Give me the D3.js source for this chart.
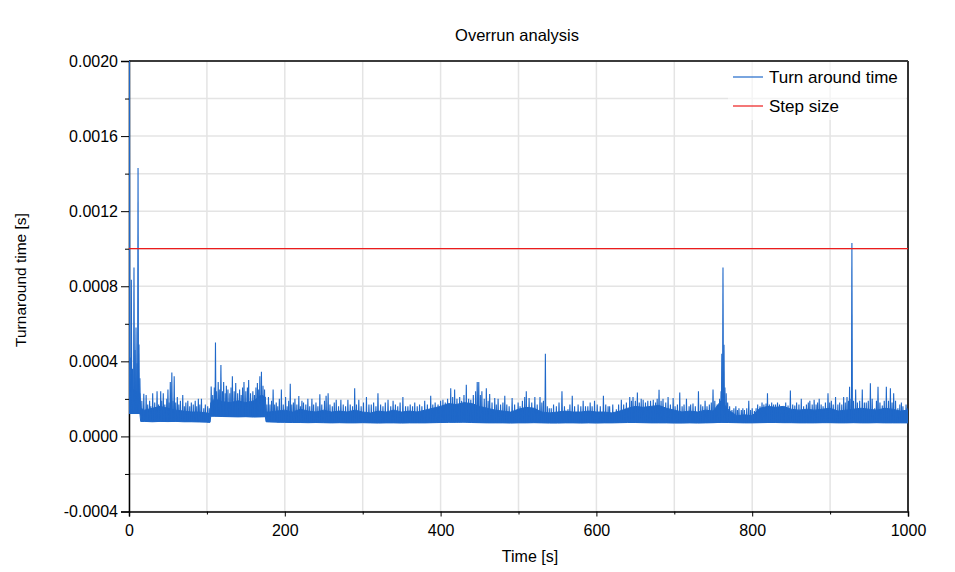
<!DOCTYPE html>
<html>
<head>
<meta charset="utf-8">
<script src="https://cdn.jsdelivr.net/npm/d3@7"></script>
<style>
  body { margin: 0; background: #fff; }
  svg { font-family: "Liberation Sans", Arial, sans-serif; }
  .grid line { stroke: #e4e4e4; stroke-width: 1.5; }
  .axis path, .axis line { stroke: #000; }
  .axis text { font-size: 16px; fill: #000; }
</style>
</head>
<body>
<svg id="chart" width="955" height="572"></svg>
<script>
// ---- data (values in units of 1e-4 s where noted) ----
const yTickValues = [-0.0004, 0, 0.0004, 0.0008, 0.0012, 0.0016, 0.0020];
const yTickLabels = ["-0.0004", "0.0000", "0.0004", "0.0008", "0.0012", "0.0016", "0.0020"];
const yMinorValues = [-0.0002, 0.0002, 0.0006, 0.0010, 0.0014, 0.0018];
const xTickValues = [0, 200, 400, 600, 800, 1000];
const xTickLabels = ["0", "200", "400", "600", "800", "1000"];
const xMinorValues = [100, 300, 500, 700, 900];

// step size (constant)
const stepTimes = [0, 1000];
const stepValues = [0.001, 0.001];

// dense core of the turnaround-time trace: lower / upper edge (1e-4 s)
const bandTimes = [0, 14, 15, 20, 30, 40, 50, 60, 70, 80, 90, 100, 104, 105, 110, 120, 130, 140, 150, 160, 170, 175,
  176, 180, 190, 200, 210, 220, 230, 240, 250, 260, 270,
  280, 290, 300, 310, 320, 330, 340, 350, 360, 370,
  380, 390, 400, 410, 420, 430, 440, 450, 460, 470,
  480, 490, 500, 510, 520, 530, 540, 550, 560, 570,
  580, 590, 600, 610, 620, 630, 640, 650, 660, 670,
  680, 690, 700, 710, 720, 730, 740, 750, 760, 770,
  780, 790, 800, 810, 820, 830, 840, 850, 860, 870,
  880, 890, 900, 910, 920, 930, 940, 950, 960, 970,
  980, 990, 1000];
const bandLow = [1.22, 1.22, 0.80, 0.80, 0.78, 0.80, 0.79, 0.80, 0.78, 0.78, 0.77, 0.76, 0.75, 1.08, 1.08, 1.06, 1.05, 1.04, 1.05, 1.03, 1.04, 1.05,
  0.78, 0.77, 0.76, 0.75, 0.74, 0.74, 0.73, 0.74, 0.73, 0.72, 0.73,
  0.72, 0.72, 0.73, 0.72, 0.71, 0.72, 0.72, 0.71, 0.72, 0.72,
  0.72, 0.73, 0.74, 0.75, 0.75, 0.76, 0.74, 0.73, 0.72, 0.72,
  0.72, 0.71, 0.72, 0.72, 0.73, 0.72, 0.71, 0.71, 0.72, 0.72,
  0.71, 0.72, 0.71, 0.72, 0.72, 0.73, 0.74, 0.74, 0.73, 0.72,
  0.72, 0.72, 0.71, 0.71, 0.72, 0.71, 0.72, 0.73, 0.75, 0.74,
  0.73, 0.72, 0.72, 0.73, 0.74, 0.74, 0.73, 0.73, 0.72, 0.72,
  0.72, 0.73, 0.73, 0.72, 0.72, 0.73, 0.72, 0.72, 0.73, 0.72,
  0.72, 0.72, 0.72];
const bandHigh = [2.6, 2.3, 1.5, 1.4, 1.5, 1.6, 1.5, 1.4, 1.35, 1.3, 1.3, 1.25, 1.2, 1.8, 2.0, 1.85, 1.8, 1.9, 1.8, 1.9, 2.2, 2.1,
  1.3, 1.3, 1.35, 1.4, 1.3, 1.45, 1.35, 1.3, 1.4, 1.3, 1.35,
  1.3, 1.4, 1.3, 1.25, 1.35, 1.3, 1.4, 1.3, 1.35, 1.3,
  1.4, 1.5, 1.6, 1.75, 1.7, 1.8, 1.75, 1.6, 1.5, 1.4,
  1.35, 1.3, 1.45, 1.55, 1.5, 1.3, 1.25, 1.3, 1.35, 1.3,
  1.3, 1.35, 1.3, 1.3, 1.25, 1.35, 1.5, 1.6, 1.55, 1.6,
  1.65, 1.5, 1.4, 1.3, 1.35, 1.3, 1.4, 1.35, 1.9, 1.4,
  1.1, 1.15, 1.1, 1.5, 1.6, 1.55, 1.6, 1.45, 1.4, 1.45,
  1.4, 1.45, 1.5, 1.35, 1.4, 1.45, 1.5, 1.45, 1.4, 1.5,
  1.45, 1.35, 1.4];

// individual peaks of the trace: [time s, peak 1e-4 s]
const spikes = [
  [0.6, 21], [1.5, 4.2], [3.0, 8.35], [4.5, 3.6], [6.4, 9.0], [7.7, 4.6], [9.0, 5.8], [10.3, 3.9], [11.6, 14.3], [12.8, 4.9], [14, 3.1],
  [16.5, 1.9], [19, 2.27], [22, 2.2], [24, 1.7], [26.5, 1.9], [28, 1.6], [30.4, 2.3], [33, 1.8], [36, 2.4], [38, 1.7],
  [40.7, 2.4], [42, 1.9], [44, 2.3], [46, 1.7], [48.5, 2.0], [50, 2.5], [51.5, 1.8], [53, 2.9], [55, 3.4], [56.5, 1.9],
  [58, 3.2], [60, 1.8], [62, 2.1], [64, 1.7], [66, 1.9], [69, 2.2], [71, 1.6], [73, 1.8], [75.5, 1.9], [78, 1.6],
  [80, 1.8], [82.5, 1.7], [85, 1.9], [87, 1.6], [89, 2.0], [91, 1.7], [93, 2.0], [96, 1.5], [98, 1.7], [101, 1.6], [103, 1.5],
  [105.5, 2.66], [107.5, 2.2], [109.5, 2.6], [111, 5.0], [112.5, 2.4], [114.5, 2.9], [116.5, 2.5], [118, 3.8], [120, 2.4], [121.5, 2.9],
  [123.5, 2.3], [125, 2.7], [127, 2.5], [129.5, 2.3], [131, 2.6], [132.7, 3.2], [135, 2.4], [137, 2.85], [139.5, 2.3], [142, 2.5],
  [144, 2.2], [145.8, 2.6], [147.6, 2.9], [150, 2.4], [152, 2.6], [153.6, 3.0], [156, 2.3], [159, 2.4], [161, 2.2], [163, 2.6],
  [164.8, 2.85], [166.5, 2.5], [168, 3.2], [170, 3.45], [172, 2.7], [174, 2.5],
  [177, 1.7], [179, 2.1], [181, 1.7], [183, 1.9], [185, 2.5], [187, 1.7], [189, 1.8], [191, 1.6], [193, 2.0], [195.6, 2.5],
  [198, 1.7], [201, 2.1], [203, 1.6], [205, 1.9], [207, 2.8], [209, 1.7], [211, 1.8], [213, 2.0], [215.5, 1.7], [218, 2.15],
  [220, 1.6], [222, 1.9], [224, 1.8], [227, 1.7], [229.6, 2.0], [232, 1.6], [234.8, 2.0], [237, 1.7], [240, 1.8], [242.5, 1.6],
  [245, 2.25], [247.5, 1.7], [251, 1.9], [253, 2.16], [255.6, 2.3], [258, 1.7],
  [261, 1.6], [263.5, 1.8], [266, 1.95], [269, 1.6], [272, 1.95], [275, 1.7], [278, 1.6], [281, 1.95], [284, 1.7], [287, 1.6],
  [289.7, 2.57], [292, 1.7], [295, 1.95], [298, 1.6], [301, 1.8], [304.8, 2.1], [308, 1.7], [311, 1.7], [314, 1.8], [317, 1.6],
  [319.6, 2.3], [323, 1.7], [326, 1.6], [329, 1.8], [332.5, 1.95], [336, 1.6], [339, 1.9], [342, 1.7], [345, 1.6], [348, 1.8],
  [351.6, 2.1], [355, 1.6], [358, 1.6], [361, 1.7], [364, 1.6], [366.8, 1.8], [370, 1.6], [373, 1.7], [376, 1.6], [379.6, 1.9],
  [383, 1.7], [387.3, 2.16], [390, 1.7], [393, 1.8], [396.7, 1.7], [400, 1.9], [403, 1.95], [406, 1.8], [409, 2.0], [413, 2.57],
  [415.5, 2.1], [418, 2.5], [421, 2.0], [424.5, 2.1], [427, 1.9], [430, 2.2], [433, 2.75], [436, 2.0], [438.8, 1.95], [442, 2.2],
  [445, 2.4], [447, 2.9], [449, 2.9], [451, 2.2], [453, 2.4], [456, 2.0], [458.7, 2.57], [461, 1.9], [463, 2.26], [466, 1.8],
  [469.5, 2.04], [471.5, 1.7], [473.8, 2.0], [477, 1.7], [480, 1.8], [482.4, 2.16], [485, 1.7], [488, 1.6], [491.8, 2.04], [495, 1.7],
  [499.5, 1.8], [502, 1.6], [505, 1.9], [508, 2.1], [510, 2.4], [513.6, 2.04],
  [517, 1.8], [521, 2.1], [524, 1.7], [527.6, 2.1], [530, 1.8], [532, 1.9], [534.5, 4.4], [537, 1.6], [539.5, 1.5], [542, 1.5],
  [545, 1.7], [548.6, 1.6], [552, 1.8], [555.8, 2.4], [559, 1.6], [563.5, 1.45], [566, 1.7], [569, 2.16], [572, 1.6], [576.5, 1.7],
  [580, 1.6], [583, 1.9], [586, 1.6], [589, 1.6], [592, 1.8], [594.5, 1.6], [597.6, 1.9], [601, 1.7], [605, 1.6], [609, 2.16],
  [612, 1.7], [615, 1.6], [617, 1.6], [621, 1.7], [625.6, 1.45], [628.5, 1.7], [632, 1.95], [635, 1.7], [638.5, 1.8], [642.8, 2.1],
  [645, 1.9], [647, 2.1], [650, 1.9], [652.6, 2.34], [655, 1.8], [657.5, 2.0], [660, 1.95], [663, 1.8], [666, 1.9], [669.5, 1.9],
  [673, 1.95], [676, 1.8], [678, 2.0], [680.4, 2.48], [683, 1.9], [685.5, 2.0], [689, 1.8], [692, 2.1], [695, 1.7], [698.5, 2.04],
  [701, 1.6], [704, 1.7], [707, 2.34], [710, 1.6], [712.5, 1.7], [715.6, 2.0], [719, 1.6], [721, 1.7], [724, 1.75], [727, 1.6],
  [731, 2.4], [734, 1.7], [736.5, 1.6], [739.5, 1.9], [742, 1.6], [745, 1.7], [747.5, 1.8], [749.7, 2.5], [752, 1.9], [755, 1.7],
  [758.2, 2.0], [760, 2.4], [761, 4.4], [762.5, 9.0], [763.8, 4.88], [765, 2.6], [766.6, 2.3], [768.5, 1.8],
  [771, 1.6], [774, 1.4], [776.5, 1.5], [779, 1.6], [781, 1.4], [783, 1.5], [786, 1.4], [788, 1.5], [790, 1.4], [793, 1.5],
  [795.6, 1.9], [798, 1.4], [800, 1.5], [802.8, 1.35], [805, 1.5], [807, 1.7], [810, 1.6], [812.6, 1.8], [815, 1.7], [817.8, 1.75],
  [819.6, 2.3], [822, 1.7], [825, 1.8], [827.5, 1.7], [830, 1.7], [832.5, 1.8], [835, 1.7], [838, 1.6], [840.8, 1.6], [843, 1.8],
  [846, 1.65], [849, 2.45], [852, 1.7], [854.7, 1.65], [857, 1.8], [860, 1.7], [863, 2.0], [866, 1.6], [869.6, 1.7], [872, 1.8],
  [874, 1.9], [877, 1.7], [879.5, 1.95], [882, 1.7], [884, 1.8], [886, 2.0], [888.5, 1.7], [891, 1.6], [894, 1.8], [897.3, 2.3],
  [899.5, 1.8], [901.6, 1.9], [904, 1.7], [907, 2.1], [910, 1.7], [912.3, 1.8], [915, 1.7], [917.4, 2.1], [919.5, 1.8], [921.7, 2.1],
  [923.5, 1.9], [925, 2.65], [926.8, 2.0], [928, 10.3], [930, 1.9], [932.8, 2.5], [935, 1.8], [938, 1.9], [941.3, 2.5], [944, 1.8],
  [946.4, 1.8], [949, 1.9], [951.7, 2.83], [954, 2.0], [957.3, 1.5], [959.5, 1.9], [961.5, 2.65], [964, 1.8], [967, 1.65], [969.5, 1.9],
  [972.2, 2.65], [975, 1.9], [977.4, 2.57], [979.5, 1.8], [981.6, 2.3], [984, 1.9], [987, 1.5], [989.5, 1.7], [991.5, 1.8], [993.5, 1.6],
  [995.7, 1.4], [997.5, 1.7], [998.7, 1.5]
];

const UNIT = 1e-4;
const blue = "#1f68c9";
const red = "#ec1c1c";

// ---- layout ----
const width = 955, height = 572;
const margin = {top: 61, right: 47, bottom: 60.5, left: 129};

const svg = d3.select("#chart");

const x = d3.scaleLinear()
  .domain([0, 1000])
  .range([margin.left, width - margin.right]);

const y = d3.scaleLinear()
  .domain([-0.0004, 0.0020])
  .range([height - margin.bottom, margin.top]);

// grid
const grid = svg.append("g").attr("class", "grid");
grid.selectAll("line.h")
  .data(yTickValues.concat(yMinorValues))
  .enter().append("line")
    .attr("x1", x(0)).attr("x2", x(1000))
    .attr("y1", d => y(d)).attr("y2", d => y(d));
grid.selectAll("line.v")
  .data(xTickValues.concat(xMinorValues))
  .enter().append("line")
    .attr("y1", y(-0.0004)).attr("y2", y(0.0020))
    .attr("x1", d => x(d)).attr("x2", d => x(d));

// frame top/right
svg.append("line")
  .attr("x1", x(0)).attr("x2", x(1000))
  .attr("y1", y(0.0020)).attr("y2", y(0.0020))
  .attr("stroke", "#000").attr("stroke-width", 1.5);
svg.append("line")
  .attr("x1", x(1000)).attr("x2", x(1000))
  .attr("y1", y(0.0020)).attr("y2", y(-0.0004))
  .attr("stroke", "#333").attr("stroke-width", 2);

// axes
const yAxis = d3.axisLeft(y)
  .tickValues(yTickValues)
  .tickFormat((d, i) => yTickLabels[i])
  .tickSize(8).tickPadding(3);
svg.append("g")
  .attr("class", "axis")
  .attr("transform", `translate(${x(0)},0)`)
  .call(yAxis)
  .call(g => g.select(".domain").attr("stroke-width", 1.5));

svg.append("g")
  .attr("class", "axis")
  .attr("transform", `translate(${x(0)},0)`)
  .call(d3.axisLeft(y).tickValues(yMinorValues).tickFormat("").tickSize(4))
  .call(g => g.select(".domain").remove());

const xAxis = d3.axisBottom(x)
  .tickValues(xTickValues)
  .tickFormat((d, i) => xTickLabels[i])
  .tickSize(5).tickPadding(8);
svg.append("g")
  .attr("class", "axis")
  .attr("transform", `translate(0,${y(-0.0004)})`)
  .call(xAxis)
  .call(g => g.select(".domain").attr("stroke-width", 1.5));

svg.append("g")
  .attr("class", "axis")
  .attr("transform", `translate(0,${y(-0.0004)})`)
  .call(d3.axisBottom(x).tickValues(xMinorValues).tickFormat("").tickSize(3))
  .call(g => g.select(".domain").remove());

// clip
svg.append("defs").append("clipPath").attr("id", "plot-clip")
  .append("rect")
    .attr("x", x(0)).attr("y", y(0.0020))
    .attr("width", x(1000) - x(0)).attr("height", y(-0.0004) - y(0.0020));

const plot = svg.append("g").attr("clip-path", "url(#plot-clip)");

// dense core
const area = d3.area()
  .x((d, i) => x(bandTimes[i]))
  .y0((d, i) => y(bandLow[i] * UNIT))
  .y1((d, i) => y(bandHigh[i] * UNIT));

plot.append("path")
  .datum(bandTimes)
  .attr("d", area)
  .attr("fill", blue)
  .attr("stroke", blue)
  .attr("stroke-width", 1);

// peaks
const bisect = d3.bisector(d => d).right;
const baseAt = t => bandLow[Math.max(0, bisect(bandTimes, t) - 1)];
const spikeLine = d3.line().x(d => x(d[0])).y(d => y(d[1] * UNIT));

plot.selectAll("path.spike")
  .data(spikes)
  .enter().append("path")
    .attr("class", "spike")
    .attr("d", d => spikeLine([[d[0] - 0.6, baseAt(d[0])], [d[0], d[1]], [d[0] + 0.6, baseAt(d[0])]]))
    .attr("fill", blue)
    .attr("stroke", blue)
    .attr("stroke-width", 1.1)
    .attr("stroke-linejoin", "miter");

// step size
const stepLine = d3.line()
  .x((d, i) => x(stepTimes[i]))
  .y((d, i) => y(stepValues[i]));
plot.append("path")
  .datum(stepTimes)
  .attr("d", stepLine)
  .attr("fill", "none")
  .attr("stroke", red)
  .attr("stroke-width", 1.2);

// titles
svg.append("text")
  .attr("x", 517).attr("y", 41)
  .attr("text-anchor", "middle")
  .style("font-size", "16.5px")
  .text("Overrun analysis");

svg.append("text")
  .attr("x", 530).attr("y", 562)
  .attr("text-anchor", "middle")
  .style("font-size", "16px")
  .text("Time [s]");

svg.append("text")
  .attr("transform", "translate(26,280) rotate(-90)")
  .attr("text-anchor", "middle")
  .style("font-size", "15.5px")
  .text("Turnaround time [s]");

// legend
const legendItems = ["Turn around time", "Step size"];
const legendColors = [blue, red];
const legend = svg.append("g");
legend.append("rect")
  .attr("x", 728).attr("y", 62)
  .attr("width", 178).attr("height", 58)
  .attr("fill", "#fff").attr("fill-opacity", 0.6);
const li = legend.selectAll("g.item")
  .data(legendItems)
  .enter().append("g")
    .attr("transform", (d, i) => `translate(733,${77 + i * 29})`);
li.append("line")
  .attr("x1", 0).attr("x2", 30)
  .attr("stroke", (d, i) => legendColors[i])
  .attr("stroke-width", 1.2);
li.append("text")
  .attr("x", 36).attr("dy", "0.35em")
  .style("font-size", "17px")
  .text(d => d);
</script>
</body>
</html>
